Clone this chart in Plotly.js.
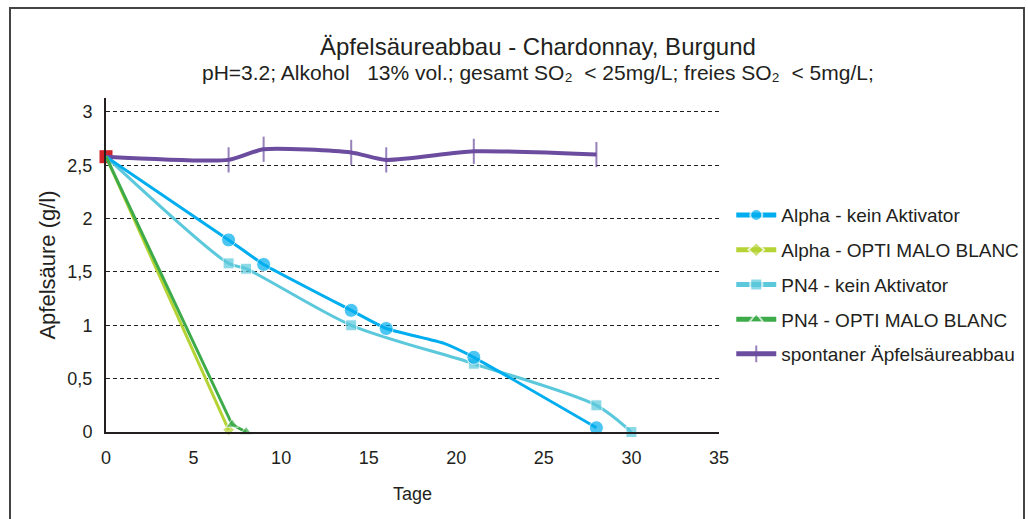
<!DOCTYPE html>
<html>
<head>
<meta charset="utf-8">
<script src="https://cdn.plot.ly/plotly-3.0.1.min.js"></script>
<style>
  html, body { margin: 0; padding: 0; background: #fff; }
  #chart { width: 1028px; height: 519px; }
  #frame { position: absolute; left: 9px; top: 7px; width: 1012px; height: 530px; border: 2px solid #444; pointer-events: none; }
</style>
</head>
<body>
<div id="chart"></div>
<div id="frame"></div>
<script>
// Data (days, malic acid g/l)
const alphaKeinX = [0, 7, 9, 14, 16, 19.3, 21, 28];
const alphaKeinY = [2.58, 1.80, 1.57, 1.14, 0.97, 0.83, 0.70, 0.04];
const alphaOptiX = [0, 7];
const alphaOptiY = [2.58, 0.02];
const pn4KeinX = [0, 7, 8, 14, 21, 28, 30];
const pn4KeinY = [2.58, 1.58, 1.53, 1.00, 0.64, 0.25, 0];
const pn4OptiX = [0, 7.2, 8];
const pn4OptiY = [2.58, 0.07, 0];
const spontanX = [0, 7, 9, 14, 16, 21, 28];
const spontanY = [2.58, 2.55, 2.65, 2.62, 2.55, 2.63, 2.60];
const startX = [0];
const startY = [2.58];

const names = [
  'Alpha - kein Aktivator',
  'Alpha - OPTI MALO BLANC',
  'PN4 - kein Aktivator',
  'PN4 - OPTI MALO BLANC',
  'spontaner Äpfelsäureabbau'
];
const yTicks = [0, 0.5, 1, 1.5, 2, 2.5, 3];
const xTicks = [0, 5, 10, 15, 20, 25, 30, 35];

const font = 'Liberation Sans, Arial, sans-serif';
const ink = '#231f20';

const traces = [
  { x: startX, y: startY, mode: 'markers', showlegend: false, cliponaxis: false,
    marker: { symbol: 'square', size: 13, color: '#d2232a' }, hoverinfo: 'skip' },
  { x: spontanX, y: spontanY, name: names[4], mode: 'lines+markers', cliponaxis: false,
    line: { color: '#6b4c9e', width: 4, shape: 'spline', smoothing: 0.6 },
    marker: { symbol: 'line-ns-open', size: [0, 18, 18, 18, 18, 18, 18], color: '#6b4c9e', line: { color: '#6b4c9e', width: 2 } },
    legendgroup: 'e', legendrank: 5 },
  { x: pn4KeinX, y: pn4KeinY, name: names[2], mode: 'lines+markers', cliponaxis: false,
    line: { color: '#5bc8dc', width: 3, shape: 'spline', smoothing: 0.8 },
    marker: { symbol: 'square', size: [0, 11, 11, 11, 11, 11, 11], color: '#5bc8dc' },
    legendgroup: 'c', legendrank: 3 },
  { x: alphaKeinX, y: alphaKeinY, name: names[0], mode: 'lines+markers', cliponaxis: false,
    line: { color: '#00aeef', width: 3, shape: 'spline', smoothing: 0.4 },
    marker: { symbol: 'circle', size: [0, 14, 14, 14, 14, 0, 14, 14], color: '#00aeef' },
    legendgroup: 'a', legendrank: 1 },
  { x: alphaOptiX, y: alphaOptiY, name: names[1], mode: 'lines+markers', cliponaxis: false,
    line: { color: '#b5d334', width: 3 },
    marker: { symbol: 'diamond', size: [0, 9], color: '#b5d334' },
    legendgroup: 'b', legendrank: 2 },
  { x: pn4OptiX, y: pn4OptiY, name: names[3], mode: 'lines+markers', cliponaxis: false,
    line: { color: '#3dab49', width: 3 },
    marker: { symbol: 'triangle-up', size: [0, 11, 11], color: '#3dab49' },
    legendgroup: 'd', legendrank: 4 }
];

const layout = {
  width: 1028, height: 519,
  margin: { l: 106, r: 309, t: 98, b: 87, autoexpand: false },
  paper_bgcolor: '#fff', plot_bgcolor: '#fff',
  separators: ', ',
  font: { family: font, size: 16, color: ink },
  showlegend: true,
  legend: {
    x: 1.02, y: 0.706, xanchor: 'left', yanchor: 'top',
    traceorder: 'grouped', tracegroupgap: 7,
    itemsizing: 'constant', itemwidth: 40,
    font: { family: font, size: 19, color: ink },
    bgcolor: 'rgba(0,0,0,0)'
  },
  xaxis: {
    range: [0, 35], tickvals: xTicks, ticks: '', showgrid: false, zeroline: false,
    showline: true, linecolor: ink, linewidth: 2, ticklabelstandoff: 8, automargin: false,
    tickfont: { family: font, size: 18, color: ink },
    title: { text: 'Tage', font: { family: font, size: 18, color: ink }, standoff: 21 }
  },
  yaxis: {
    range: [0, 3.13], tickvals: yTicks, ticks: '', zeroline: false, automargin: false,
    showgrid: true, gridcolor: ink, gridwidth: 1, griddash: '4px,3px',
    showline: true, linecolor: ink, linewidth: 2, ticklabelstandoff: 8,
    tickfont: { family: font, size: 18, color: ink },
    title: { text: 'Apfelsäure (g/l)', font: { family: font, size: 22, color: ink }, standoff: 6 }
  },
  annotations: [
    { text: 'Äpfelsäureabbau - Chardonnay, Burgund', xref: 'paper', yref: 'paper',
      x: 0.705, y: 1.155, xanchor: 'center', yanchor: 'middle', showarrow: false,
      font: { family: font, size: 24, color: ink } },
    { text: 'pH=3.2; Alkohol   13% vol.; gesamt SO₂  < 25mg/L; freies SO₂  < 5mg/L;', xref: 'paper', yref: 'paper',
      x: 0.705, y: 1.075, xanchor: 'center', yanchor: 'middle', showarrow: false,
      font: { family: font, size: 21, color: ink } }
  ]
};

Plotly.newPlot('chart', traces, layout, { displayModeBar: false, staticPlot: true });
</script>
</body>
</html>
